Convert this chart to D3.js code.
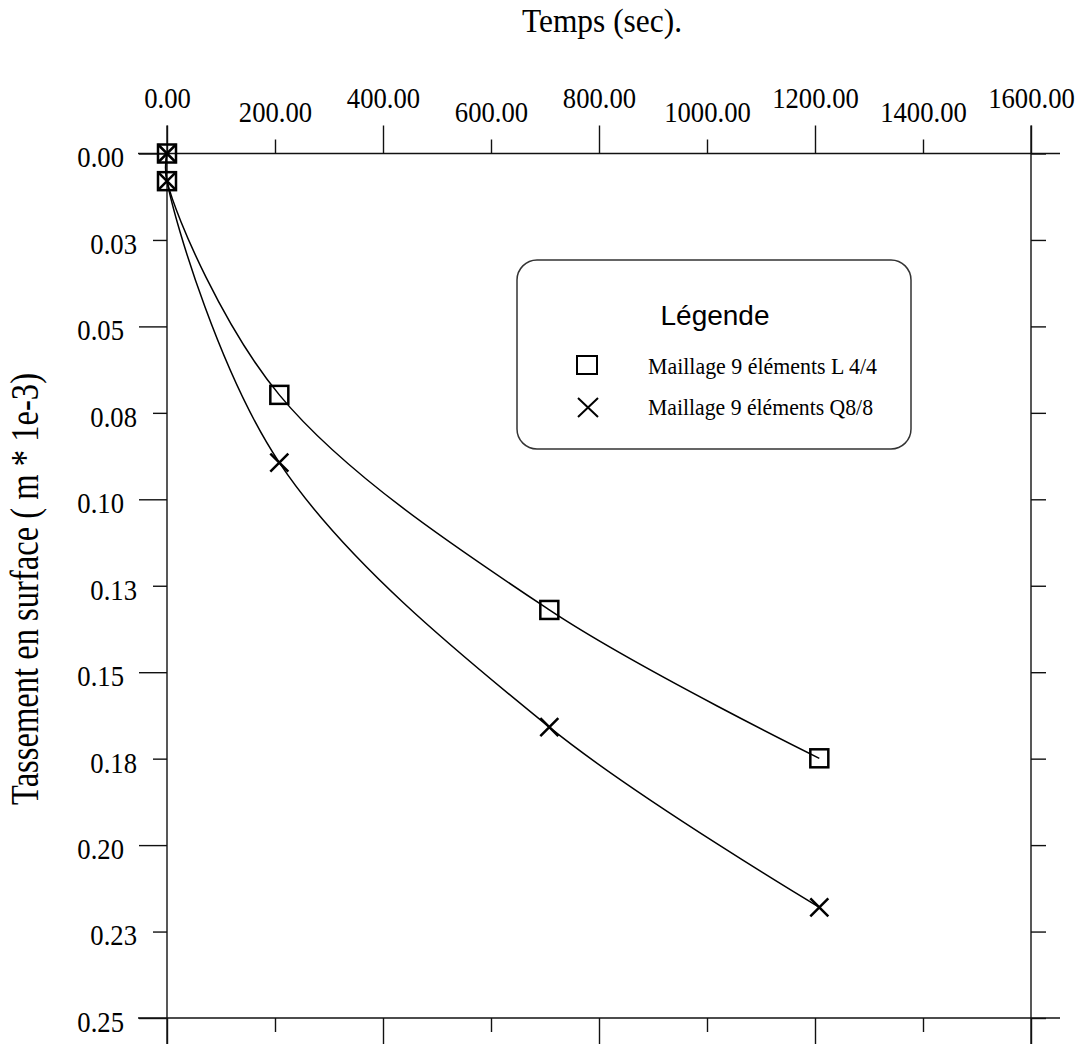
<!DOCTYPE html>
<html>
<head>
<meta charset="utf-8">
<script src="https://cdn.jsdelivr.net/npm/d3@7"></script>
<style>
  html, body { margin: 0; padding: 0; background: #fff; }
  svg { display: block; }
</style>
</head>
<body>
<svg id="chart" width="1083" height="1044"></svg>
<script>
// ---- data ----
const times = [0, 0, 208, 708, 1208];
const seriesL44 = [0, 0.008, 0.0698, 0.132, 0.1749];
const seriesQ88 = [0, 0.008, 0.0894, 0.1659, 0.218];
const seriesNames = ["Maillage 9 éléments L 4/4", "Maillage 9 éléments Q8/8"];
const xTicks = [0, 200, 400, 600, 800, 1000, 1200, 1400, 1600];
const xTickLabels = ["0.00", "200.00", "400.00", "600.00", "800.00", "1000.00", "1200.00", "1400.00", "1600.00"];
const yTicks = [0, 0.025, 0.05, 0.075, 0.1, 0.125, 0.15, 0.175, 0.2, 0.225, 0.25];
const yTickLabels = ["0.00", "0.03", "0.05", "0.08", "0.10", "0.13", "0.15", "0.18", "0.20", "0.23", "0.25"];
const xTitle = "Temps (sec).";
const yTitle = "Tassement en surface ( m * 1e-3)";
const legendTitle = "Légende";

// ---- layout ----
const svg = d3.select("#chart");
const x = d3.scaleLinear().domain([0, 1600]).range([167, 1031]);
const y = d3.scaleLinear().domain([0, 0.25]).range([153.5, 1018]);
const serif = "'Liberation Serif', 'Times New Roman', serif";
const sans = "'Liberation Sans', Arial, sans-serif";
const axisColor = "#111";
const cond = 0.92;

const major = (arr) => arr.filter((d, i) => i % 2 === 0);
const minor = (arr) => arr.filter((d, i) => i % 2 === 1);
const xLab = d => xTickLabels[xTicks.indexOf(d)];
const yLab = d => yTickLabels[yTicks.indexOf(d)];

function styleAxis(g) {
  g.select(".domain").remove();
  g.selectAll(".tick line").attr("stroke", axisColor).attr("stroke-width", 1.4);
  g.selectAll(".tick text").attr("fill", "#000").style("font-family", serif).style("font-size", "29px")
    .each(function () {
      const t = d3.select(this);
      const xv = +t.attr("x") || 0;
      t.attr("x", xv / cond).attr("transform", `scale(${cond},1)`);
    });
}

// frame lines
const frame = svg.append("g").attr("stroke", axisColor).attr("stroke-width", 1.4);
frame.append("line").attr("x1", x(0) - 29).attr("x2", x(1600) + 29).attr("y1", y(0)).attr("y2", y(0));
frame.append("line").attr("x1", x(0) - 29).attr("x2", x(1600) + 29).attr("y1", y(0.25)).attr("y2", y(0.25));
frame.append("line").attr("x1", x(0)).attr("x2", x(0)).attr("y1", y(0) - 28).attr("y2", y(0.25) + 28);
frame.append("line").attr("x1", x(1600)).attr("x2", x(1600)).attr("y1", y(0) - 28).attr("y2", y(0.25) + 28);

// top axis
svg.append("g").attr("transform", `translate(0,${y(0)})`)
  .call(d3.axisTop(x).tickValues(major(xTicks)).tickSize(28).tickPadding(18).tickFormat(xLab))
  .call(styleAxis);
svg.append("g").attr("transform", `translate(0,${y(0)})`)
  .call(d3.axisTop(x).tickValues(minor(xTicks)).tickSize(14).tickPadding(17.5).tickFormat(xLab))
  .call(styleAxis);

// bottom axis (ticks only)
svg.append("g").attr("transform", `translate(0,${y(0.25)})`)
  .call(d3.axisBottom(x).tickValues(major(xTicks)).tickSize(28).tickFormat(""))
  .call(styleAxis);
svg.append("g").attr("transform", `translate(0,${y(0.25)})`)
  .call(d3.axisBottom(x).tickValues(minor(xTicks)).tickSize(14).tickFormat(""))
  .call(styleAxis);

// left axis
svg.append("g").attr("transform", `translate(${x(0)},0)`)
  .call(d3.axisLeft(y).tickValues(major(yTicks)).tickSize(28).tickPadding(15).tickFormat(yLab))
  .call(styleAxis)
  .call(g => g.selectAll(".tick text").attr("dy", "0.46em"));
svg.append("g").attr("transform", `translate(${x(0)},0)`)
  .call(d3.axisLeft(y).tickValues(minor(yTicks)).tickSize(14).tickPadding(16).tickFormat(yLab))
  .call(styleAxis)
  .call(g => g.selectAll(".tick text").attr("dy", "0.46em"));

// right axis (ticks only)
svg.append("g").attr("transform", `translate(${x(1600)},0)`)
  .call(d3.axisRight(y).tickValues(yTicks).tickSize(15).tickFormat(""))
  .call(styleAxis);

// titles
svg.append("text")
  .attr("x", 602).attr("y", 32)
  .attr("text-anchor", "middle")
  .attr("textLength", 160).attr("lengthAdjust", "spacingAndGlyphs")
  .style("font-family", serif).style("font-size", "34px")
  .text(xTitle);

svg.append("text")
  .attr("transform", "translate(38,589) rotate(-90)")
  .attr("text-anchor", "middle")
  .attr("textLength", 432).attr("lengthAdjust", "spacingAndGlyphs")
  .style("font-family", serif).style("font-size", "40px")
  .text(yTitle);

// curves
const line = d3.line().x(d => x(d[0])).y(d => y(d[1])).curve(d3.curveCatmullRom.alpha(0.5));
const dataL = times.map((t, i) => [t, seriesL44[i]]);
const dataQ = times.map((t, i) => [t, seriesQ88[i]]);
[dataL, dataQ].forEach(dat => {
  svg.append("path").datum(dat)
    .attr("d", line)
    .attr("fill", "none").attr("stroke", "#000").attr("stroke-width", 1.5);
});

// markers
function square(g, cx, cy, s) {
  g.append("rect").attr("x", cx - s / 2).attr("y", cy - s / 2).attr("width", s).attr("height", s)
    .attr("fill", "none").attr("stroke", "#000").attr("stroke-width", 2.5);
}
function cross(g, cx, cy, s) {
  const h = s / 2;
  g.append("path").attr("d", `M${cx - h},${cy - h}L${cx + h},${cy + h}M${cx - h},${cy + h}L${cx + h},${cy - h}`)
    .attr("fill", "none").attr("stroke", "#000").attr("stroke-width", 2.5);
}
const mk = svg.append("g");
dataL.forEach(d => square(mk, x(d[0]), y(d[1]), 18));
dataQ.forEach(d => cross(mk, x(d[0]), y(d[1]), 18));

// legend
const lg = svg.append("g");
lg.append("rect").attr("x", 517).attr("y", 260).attr("width", 394).attr("height", 189).attr("rx", 20).attr("ry", 20)
  .attr("fill", "#fff").attr("stroke", "#333").attr("stroke-width", 1.5);
lg.append("text").attr("x", 715).attr("y", 325).attr("text-anchor", "middle")
  .style("font-family", sans).style("font-size", "28px").text(legendTitle);
lg.append("rect").attr("x", 577).attr("y", 356).attr("width", 20).attr("height", 18)
  .attr("fill", "none").attr("stroke", "#000").attr("stroke-width", 2);
lg.append("path").attr("d", "M578,398L598,417M578,417L598,398")
  .attr("fill", "none").attr("stroke", "#000").attr("stroke-width", 2);
lg.append("text").attr("x", 648).attr("y", 374)
  .attr("textLength", 229).attr("lengthAdjust", "spacingAndGlyphs")
  .style("font-family", serif).style("font-size", "24px").text(seriesNames[0]);
lg.append("text").attr("x", 648).attr("y", 415)
  .attr("textLength", 225).attr("lengthAdjust", "spacingAndGlyphs")
  .style("font-family", serif).style("font-size", "24px").text(seriesNames[1]);
</script>
</body>
</html>
